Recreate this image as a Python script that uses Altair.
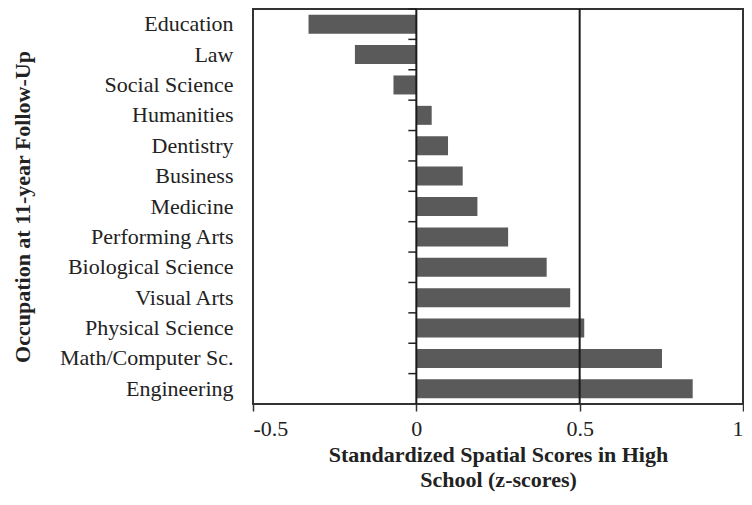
import altair as alt
import pandas as pd

occupations = ["Education", "Law", "Social Science", "Humanities", "Dentistry",
               "Business", "Medicine", "Performing Arts", "Biological Science",
               "Visual Arts", "Physical Science", "Math/Computer Sc.", "Engineering"]
scores = [-0.330, -0.188, -0.070, 0.047, 0.097, 0.142, 0.187, 0.281, 0.399,
          0.471, 0.514, 0.752, 0.846]
ref_lines = [0, 0.5]
x_ticks = [-0.5, 0, 0.5, 1]

df = pd.DataFrame({"occupation": occupations, "score": scores})
ref = pd.DataFrame({"v": ref_lines})

FONT = "Liberation Serif"
xscale = alt.Scale(domain=[-0.5, 1], nice=False, zero=False)
yscale = alt.Scale(domain=occupations, paddingInner=0, paddingOuter=0)

bars = alt.Chart(df).mark_bar(color="#5a5a5a", size=19).encode(
    x=alt.X("score:Q", scale=xscale,
            axis=alt.Axis(values=x_ticks, labelExpr="toString(datum.value)",
                          title=["Standardized Spatial Scores in High", "School (z-scores)"],
                          grid=False, tickSize=7, tickColor="#333", tickWidth=1.5,
                          domain=False, labelPadding=7, titlePadding=5,
                          titleLineHeight=25)),
    x2=alt.datum(0),
    y=alt.Y("occupation:N", scale=yscale, sort=occupations,
            axis=alt.Axis(title="Occupation at 11-year Follow-Up", ticks=False,
                          domain=False, labelPadding=20, titlePadding=25)),
)

yticks = alt.Chart(df).mark_rule(color="#222", strokeWidth=1.5, x2Offset=-8).encode(
    y=alt.Y("occupation:N", scale=yscale, sort=occupations, bandPosition=0),
    x=alt.datum(0),
    x2=alt.datum(0),
)

rules = alt.Chart(ref).mark_rule(color="#1a1a1a", strokeWidth=2).encode(
    x=alt.X("v:Q", scale=xscale)
)

chart = alt.layer(bars, yticks, rules).properties(
    width=490, height=395,
    autosize=alt.AutoSizeParams(type="none"),
    padding={"left": 245, "top": 1, "right": 1, "bottom": 92},
).configure_view(stroke="#333", strokeWidth=2).configure_axis(
    labelFont=FONT, labelFontSize=22, labelColor="#222",
    titleFont=FONT, titleFontSize=22, titleFontWeight="bold", titleColor="#222",
)

chart.save("out.html", embed_options={"renderer": "svg", "actions": False})
